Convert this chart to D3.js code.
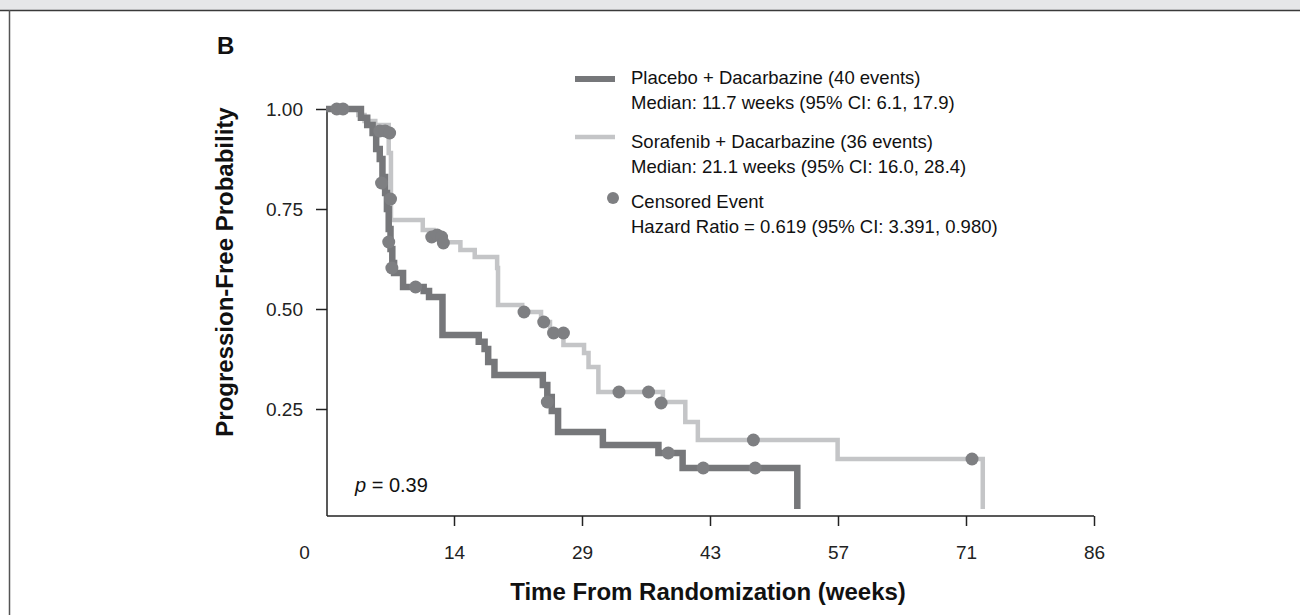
<!DOCTYPE html>
<html>
<head>
<meta charset="utf-8">
<script src="https://cdn.jsdelivr.net/npm/d3@7"></script>
<style>
  html, body { margin: 0; padding: 0; background: #fff; }
  svg { display: block; font-family: "Liberation Sans", Arial, Helvetica, sans-serif; }
</style>
</head>
<body>
<div id="chart"></div>
<script>
// step points [weeks, progression-free probability]
const placeboSteps = [
  [0, 1], [3.9, 0.978], [4.6, 0.96], [5.2, 0.94], [5.6, 0.90], [6.0, 0.875],
  [6.3, 0.83], [6.6, 0.79], [6.8, 0.75], [7.0, 0.70], [7.2, 0.65], [7.4, 0.615],
  [7.6, 0.59], [8.6, 0.555], [10.9, 0.545], [11.5, 0.53], [13.0, 0.435],
  [17.05, 0.418], [17.7, 0.40], [18.1, 0.3675], [18.8, 0.335], [24.2, 0.31],
  [24.7, 0.28], [25.2, 0.245], [25.9, 0.1925], [30.9, 0.16], [37.1, 0.14],
  [39.8, 0.1025], [52.6, 0]
];
const sorafenibSteps = [
  [0, 1], [3.6, 0.985], [4.3, 0.97], [5.5, 0.96], [7.0, 0.89], [7.25, 0.7225],
  [10.8, 0.6975], [12.0, 0.68], [13.2, 0.667], [15.0, 0.6475], [16.6, 0.63],
  [19.1, 0.6025], [19.2, 0.51], [21.9, 0.4925], [24.0, 0.4675], [25.0, 0.44],
  [26.5, 0.41], [28.8, 0.39], [29.3, 0.355], [30.4, 0.2925], [37.6, 0.2675],
  [40.1, 0.2175], [41.5, 0.1725], [57.1, 0.125], [73.3, 0]
];

// censored events
const placeboCensored = [
  [1.2, 1.0], [1.9, 1.0], [6.2, 0.815], [7.0, 0.6675], [7.2, 0.775], [7.35, 0.6025],
  [10.0, 0.555], [24.7, 0.2675], [38.2, 0.14], [42.1, 0.1025], [47.9, 0.1025]
];
const sorafenibCensored = [
  [6.0, 0.945], [6.6, 0.945], [7.1, 0.94], [11.8, 0.68], [12.4, 0.685], [12.9, 0.68],
  [13.1, 0.665], [22.1, 0.4925], [24.3, 0.4675], [25.4, 0.44], [26.5, 0.44],
  [32.7, 0.2925], [36.0, 0.2925], [37.4, 0.265], [47.7, 0.1725], [72.1, 0.125]
];

// axes
const xTickValues = [0, 1, 2, 3, 4, 5, 6].map(k => k * 100 / 7);
const yTickValues = [0.25, 0.5, 0.75, 1.0];

const legendLines = [
  'Placebo + Dacarbazine (40 events)',
  'Median: 11.7 weeks (95% CI: 6.1, 17.9)',
  'Sorafenib + Dacarbazine (36 events)',
  'Median: 21.1 weeks (95% CI: 16.0, 28.4)',
  'Censored Event',
  'Hazard Ratio = 0.619 (95% CI: 3.391, 0.980)'
];

const W = 1300, H = 615;
const DARK = '#76777a', LIGHT = '#c4c5c7', DOT = '#7e7f82';

const svg = d3.select('#chart').append('svg')
  .attr('width', W)
  .attr('height', H);

// page frame
svg.append('rect').attr('x', 0).attr('y', 0).attr('width', W).attr('height', 10).attr('fill', '#e6e7e8');
svg.append('line').attr('x1', 0).attr('x2', W).attr('y1', 10.5).attr('y2', 10.5)
  .attr('stroke', '#3a3a3a').attr('stroke-width', 1.5);
svg.append('line').attr('x1', 9.5).attr('x2', 9.5).attr('y1', 10).attr('y2', H)
  .attr('stroke', '#555').attr('stroke-width', 1.5);

const x = d3.scaleLinear().domain([0, 600 / 7]).range([326, 1094]);
const y = d3.scaleLinear().domain([0, 1]).range([509, 109]);
const axisY = 516;

// x axis
const xAxisG = svg.append('g')
  .attr('transform', `translate(0,${axisY})`)
  .call(d3.axisBottom(x)
    .tickValues(xTickValues)
    .tickFormat(d3.format('.0f'))
    .tickSize(10)
    .tickSizeOuter(0)
    .tickPadding(20));
xAxisG.select('.domain').attr('stroke', '#222').attr('stroke-width', 1.5)
  .attr('d', `M${x(0) + 1},0H${x(600 / 7)}`);
xAxisG.selectAll('.tick line').attr('stroke', '#222').attr('stroke-width', 1.5);
xAxisG.selectAll('.tick text').attr('font-size', 19).attr('fill', '#222')
  .attr('font-family', '"Liberation Sans", Arial, sans-serif');
xAxisG.selectAll('.tick').filter(d => d === 0).select('line').remove();
xAxisG.selectAll('.tick').filter(d => d === 0).select('text').attr('x', -22);

// y axis
const yAxisG = svg.append('g')
  .attr('transform', `translate(${x(0) + 1},0)`)
  .call(d3.axisLeft(y)
    .tickValues(yTickValues)
    .tickFormat(d3.format('.2f'))
    .tickSize(11)
    .tickPadding(13));
yAxisG.select('.domain').attr('stroke', '#222').attr('stroke-width', 1.5)
  .attr('d', `M0,${y(1)}V${axisY}`);
yAxisG.selectAll('.tick line').attr('stroke', '#222').attr('stroke-width', 1.5);
yAxisG.selectAll('.tick text').attr('font-size', 19).attr('fill', '#222')
  .attr('font-family', '"Liberation Sans", Arial, sans-serif');

// curves
const step = d3.line()
  .x(d => x(d[0]))
  .y(d => y(d[1]))
  .curve(d3.curveStepAfter);

svg.append('path')
  .datum(sorafenibSteps)
  .attr('d', step)
  .attr('fill', 'none')
  .attr('stroke', LIGHT)
  .attr('stroke-width', 4.5);

svg.append('path')
  .datum(placeboSteps)
  .attr('d', step)
  .attr('fill', 'none')
  .attr('stroke', DARK)
  .attr('stroke-width', 6.5);

svg.append('g').selectAll('circle')
  .data(placeboCensored.concat(sorafenibCensored))
  .join('circle')
  .attr('cx', d => x(d[0]))
  .attr('cy', d => y(d[1]))
  .attr('r', 6.5)
  .attr('fill', DOT);

// labels
svg.append('text')
  .attr('x', 217).attr('y', 54)
  .attr('font-size', 24).attr('font-weight', 'bold').attr('fill', '#111')
  .text('B');

svg.append('text')
  .attr('transform', 'translate(233,272) rotate(-90)')
  .attr('text-anchor', 'middle')
  .attr('font-size', 24).attr('font-weight', 'bold').attr('fill', '#111')
  .text('Progression-Free Probability');

svg.append('text')
  .attr('x', 708).attr('y', 600)
  .attr('text-anchor', 'middle')
  .attr('font-size', 24).attr('font-weight', 'bold').attr('fill', '#111')
  .text('Time From Randomization (weeks)');

const pText = svg.append('text')
  .attr('x', 355).attr('y', 492)
  .attr('font-size', 20).attr('fill', '#111');
pText.append('tspan').attr('font-style', 'italic').text('p');
pText.append('tspan').text(' = 0.39');

// legend
const legend = svg.append('g');
const legendY = [84, 109, 148, 173, 208, 233];
legend.selectAll('text')
  .data(legendLines)
  .join('text')
  .attr('x', 631)
  .attr('y', (d, i) => legendY[i])
  .attr('font-size', 18.5)
  .attr('fill', '#111')
  .text(d => d);

legend.append('line')
  .attr('x1', 575).attr('x2', 615).attr('y1', 79).attr('y2', 79)
  .attr('stroke', DARK).attr('stroke-width', 6);
legend.append('line')
  .attr('x1', 575).attr('x2', 615).attr('y1', 137).attr('y2', 137)
  .attr('stroke', LIGHT).attr('stroke-width', 4.5);
legend.append('circle')
  .attr('cx', 613).attr('cy', 198).attr('r', 6)
  .attr('fill', DOT);
</script>
</body>
</html>
